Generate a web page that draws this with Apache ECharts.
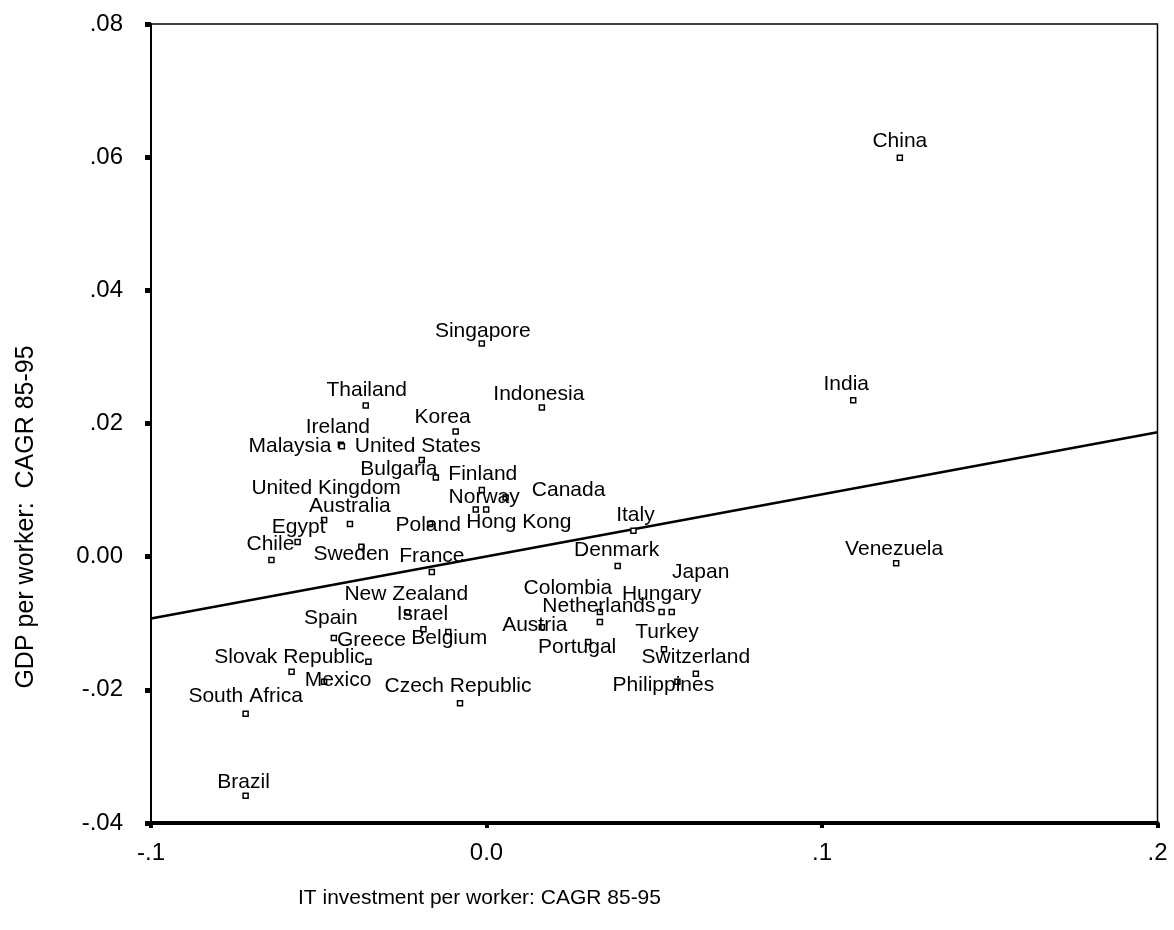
<!DOCTYPE html>
<html><head><meta charset="utf-8">
<script src="https://cdn.jsdelivr.net/npm/echarts@6/dist/echarts.min.js"></script>
<style>html,body{margin:0;padding:0;background:#fff}#c{width:1174px;height:930px}</style>
</head><body><div id="c"></div>
<script>
const countries = ['China','India','Venezuela','Singapore','Thailand','Indonesia','Korea','Ireland','Malaysia','United States','Bulgaria','Finland','Canada','Norway','Hong Kong','United Kingdom','Australia','Poland','Italy','Egypt','Sweden','Chile','Denmark','France','Colombia','Hungary','Japan','New Zealand','Netherlands','Austria','Israel','Belgium','Spain','Portugal','Turkey','Greece','Slovak Republic','Switzerland','Mexico','Philippines','Czech Republic','South Africa','Brazil'];
const itInvestGrowth = [0.1232,0.1093,0.1221,-0.0014,-0.0360,0.0165,-0.0092,-0.0434,-0.0431,-0.0193,-0.0151,-0.0014,0.0057,-0.0001,-0.0032,-0.0484,-0.0407,-0.0168,0.0438,-0.0563,-0.0373,-0.0641,0.0391,-0.0163,0.0338,0.0522,0.0552,-0.0236,0.0338,0.0165,-0.0188,-0.0114,-0.0455,0.0303,0.0529,-0.0352,-0.0581,0.0624,-0.0484,0.0569,-0.0079,-0.0718,-0.0718];
const gdpGrowth = [0.0599,0.0235,-0.0010,0.0320,0.0227,0.0224,0.0188,0.0168,0.0166,0.0145,0.0119,0.0100,0.0089,0.0071,0.0071,0.0055,0.0049,0.0049,0.0039,0.0022,0.0015,-0.0005,-0.0014,-0.0023,-0.0083,-0.0083,-0.0083,-0.0084,-0.0098,-0.0106,-0.0109,-0.0113,-0.0122,-0.0128,-0.0139,-0.0158,-0.0173,-0.0176,-0.0188,-0.0188,-0.0220,-0.0236,-0.0359];
const fitLine = [[-0.1,-0.0093],[0.2,0.0187]];
const xTickLabels = ['-.1','0.0','.1','.2'];
const yTickLabels = ['-.04','-.02','0.00','.02','.04','.06','.08'];
const xTitle = 'IT investment per worker: CAGR 85-95';
const yTitle = 'GDP per worker:  CAGR 85-95';

// label placement (style only), px relative to the point
const labelOffsets = {
 'China':[0,-18],'India':[-7,-17],'Venezuela':[-2,-16],'Singapore':[1,-14],'Thailand':[1,-17],
 'Indonesia':[-3,-15],'Korea':[-13,-16],'Ireland':[-3,-19],'Malaysia':[-52,-1],'United States':[-4,-15],
 'Bulgaria':[-37,-10],'Finland':[1,-17],'Canada':[63,-9],'Norway':[-2,-14],'Hong Kong':[43,11],
 'United Kingdom':[2,-33],'Australia':[0,-19],'Poland':[-2,0],'Italy':[2,-17],'Egypt':[1,-16],
 'Sweden':[-10,6],'Chile':[-1,-17],'Denmark':[-1,-17],'France':[0,-17],'Colombia':[-32,-25],
 'Hungary':[0,-19],'Japan':[29,-41],'New Zealand':[-1,-20],'Netherlands':[-1,-17],'Austria':[-7,-4],
 'Israel':[-1,-17],'Belgium':[1,5],'Spain':[-3,-21],'Portugal':[-11,4],'Turkey':[3,-19],
 'Greece':[3,-23],'Slovak Republic':[-2,-16],'Switzerland':[0,-18],'Mexico':[14,-3],'Philippines':[-14,2],
 'Czech Republic':[-2,-18],'South Africa':[0,-19],'Brazil':[-2,-15]
};

const FONT = '"Liberation Sans", Arial, Helvetica, sans-serif';
const chart = echarts.init(document.getElementById('c'), null, {renderer:'canvas'});

const pts = countries.map((c,i)=>({name:c, value:[itInvestGrowth[i], gdpGrowth[i]]}));

chart.setOption({
  animation:false,
  backgroundColor:'#fff',
  grid:{left:151, right:16.5, top:24, bottom:107, containLabel:false, outerBoundsMode:'none',
        show:true, borderColor:'#000', borderWidth:1.5, backgroundColor:'transparent'},
  xAxis:{type:'value', min:-0.1, max:0.2, interval:0.1,
    splitLine:{show:false},
    axisLine:{show:true, onZero:false, lineStyle:{color:'#000', width:4}},
    axisTick:{show:true, length:5, lineStyle:{color:'#000', width:4}},
    axisLabel:{margin:18, fontSize:24, color:'#000', fontFamily:FONT,
      formatter:(v,i)=>xTickLabels[i]}},
  yAxis:{type:'value', min:-0.04, max:0.08, interval:0.02,
    splitLine:{show:false},
    axisLine:{show:true, onZero:false, lineStyle:{color:'#000', width:2}},
    axisTick:{show:true, length:6, lineStyle:{color:'#000', width:5}},
    axisLabel:{margin:28, fontSize:24, color:'#000', fontFamily:FONT,
      formatter:(v,i)=>yTickLabels[i]}},
  graphic:[
    {type:'text', x:479.5, y:898, style:{text:xTitle, font:'21px '+FONT, fill:'#000', align:'center', verticalAlign:'middle'}},
    {type:'text', x:26, y:517, rotation:Math.PI/2, style:{text:yTitle, font:'25px '+FONT, fill:'#000', align:'center', verticalAlign:'middle'}}
  ],
  series:[
    {type:'line', data:fitLine, showSymbol:false, symbol:'none', silent:true,
     lineStyle:{color:'#000', width:2.5}, z:2},
    {type:'scatter', data:pts, symbol:'rect', symbolSize:5,
     itemStyle:{color:'#fff', borderColor:'#000', borderWidth:1.5, opacity:1},
     label:{show:true, position:'inside', formatter:'{b}', fontSize:21, fontFamily:FONT, color:'#000',
            align:'center', verticalAlign:'middle'},
     labelLayout:function(p){
       const o = labelOffsets[countries[p.dataIndex]] || [0,-17];
       return {dx:o[0], dy:o[1] + 1.5, hideOverlap:false};
     },
     z:3}
  ]
});
</script></body></html>
